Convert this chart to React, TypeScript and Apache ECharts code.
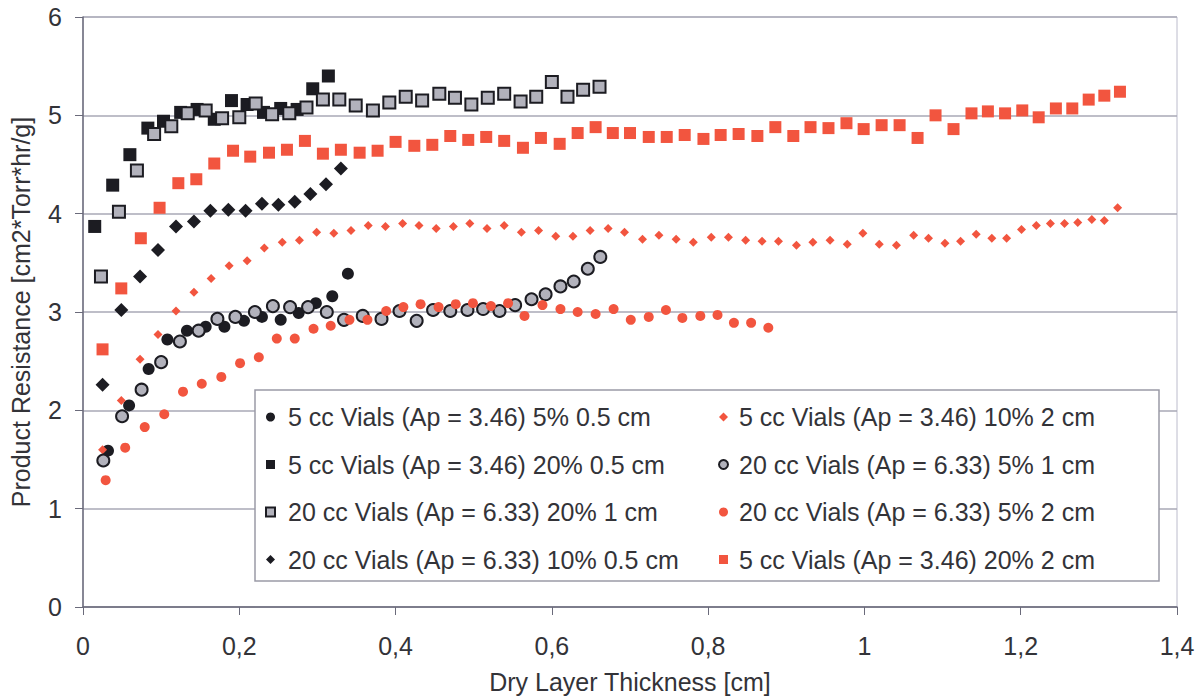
import React, { useEffect, useRef } from "react";
import * as echarts from "echarts";

// ---------- data ----------
const xTicks = [0, 0.2, 0.4, 0.6, 0.8, 1, 1.2, 1.4];
const yTicks = [0, 1, 2, 3, 4, 5, 6];

const seriesNames = [
  "5 cc Vials (Ap = 3.46) 5% 0.5 cm",
  "5 cc Vials (Ap = 3.46) 20% 0.5 cm",
  "20 cc Vials (Ap = 6.33) 20% 1 cm",
  "20 cc Vials (Ap = 6.33) 10% 0.5 cm",
  "5 cc Vials (Ap = 3.46) 10% 2 cm",
  "20 cc Vials (Ap = 6.33) 5% 1 cm",
  "20 cc Vials (Ap = 6.33) 5% 2 cm",
  "5 cc Vials (Ap = 3.46) 20% 2 cm",
];

const s1X = [0.032, 0.059, 0.084, 0.108, 0.133, 0.157, 0.181, 0.206, 0.229, 0.253, 0.276, 0.298, 0.319, 0.339];
const s1Y = [1.59, 2.05, 2.42, 2.72, 2.81, 2.85, 2.85, 2.91, 2.95, 2.92, 2.99, 3.09, 3.16, 3.39];

const s2X = [0.015, 0.038, 0.06, 0.083, 0.103, 0.125, 0.146, 0.168, 0.19, 0.21, 0.231, 0.253, 0.274, 0.294, 0.314];
const s2Y = [3.87, 4.29, 4.6, 4.87, 4.94, 5.03, 5.06, 4.96, 5.15, 5.11, 5.03, 5.07, 5.06, 5.27, 5.4];

const s3X = [0.023, 0.046, 0.069, 0.091, 0.113, 0.134, 0.157, 0.178, 0.2, 0.221, 0.242, 0.264, 0.286, 0.307, 0.328, 0.349, 0.371, 0.392, 0.413, 0.434, 0.456, 0.476, 0.497, 0.518, 0.539, 0.56, 0.58, 0.6, 0.62, 0.64, 0.661];
const s3Y = [3.36, 4.02, 4.44, 4.81, 4.89, 5.02, 5.05, 4.97, 4.98, 5.12, 5.01, 5.02, 5.08, 5.16, 5.16, 5.1, 5.05, 5.13, 5.19, 5.15, 5.22, 5.18, 5.11, 5.18, 5.22, 5.14, 5.19, 5.34, 5.19, 5.26, 5.29];

const s4X = [0.025, 0.049, 0.073, 0.096, 0.119, 0.142, 0.163, 0.186, 0.208, 0.229, 0.25, 0.271, 0.291, 0.311, 0.33];
const s4Y = [2.26, 3.02, 3.36, 3.63, 3.87, 3.92, 4.03, 4.04, 4.03, 4.1, 4.09, 4.12, 4.2, 4.3, 4.46];

const s5X = [0.025, 0.049, 0.073, 0.096, 0.119, 0.142, 0.164, 0.187, 0.21, 0.232, 0.255, 0.277, 0.299, 0.321, 0.343, 0.365, 0.387, 0.409, 0.43, 0.452, 0.474, 0.495, 0.517, 0.539, 0.561, 0.583, 0.605, 0.627, 0.649, 0.672, 0.693, 0.716, 0.737, 0.759, 0.781, 0.804, 0.826, 0.848, 0.869, 0.89, 0.913, 0.934, 0.956, 0.978, 0.998, 1.019, 1.041, 1.063, 1.082, 1.103, 1.123, 1.143, 1.163, 1.182, 1.201, 1.22, 1.238, 1.256, 1.273, 1.291, 1.307, 1.324];
const s5Y = [1.6, 2.1, 2.52, 2.77, 3.01, 3.2, 3.34, 3.47, 3.52, 3.65, 3.71, 3.73, 3.81, 3.8, 3.83, 3.88, 3.87, 3.9, 3.88, 3.85, 3.87, 3.9, 3.85, 3.88, 3.81, 3.83, 3.77, 3.77, 3.83, 3.85, 3.81, 3.74, 3.78, 3.74, 3.71, 3.76, 3.76, 3.73, 3.72, 3.72, 3.68, 3.71, 3.73, 3.69, 3.8, 3.69, 3.68, 3.78, 3.75, 3.7, 3.72, 3.79, 3.75, 3.75, 3.84, 3.88, 3.9, 3.9, 3.91, 3.94, 3.93, 4.06];

const s6X = [0.026, 0.05, 0.075, 0.1, 0.124, 0.148, 0.172, 0.195, 0.22, 0.243, 0.265, 0.288, 0.312, 0.334, 0.358, 0.382, 0.405, 0.427, 0.448, 0.47, 0.492, 0.512, 0.533, 0.553, 0.574, 0.592, 0.611, 0.628, 0.646, 0.662];
const s6Y = [1.49, 1.94, 2.21, 2.49, 2.7, 2.81, 2.93, 2.95, 3.0, 3.06, 3.05, 3.05, 3.0, 2.92, 2.96, 2.93, 3.01, 2.91, 3.02, 3.01, 3.02, 3.03, 3.01, 3.07, 3.13, 3.18, 3.26, 3.31, 3.44, 3.56];

const s7X = [0.029, 0.054, 0.079, 0.104, 0.128, 0.152, 0.177, 0.201, 0.225, 0.248, 0.271, 0.295, 0.317, 0.341, 0.364, 0.388, 0.41, 0.432, 0.455, 0.477, 0.499, 0.522, 0.544, 0.565, 0.588, 0.611, 0.633, 0.656, 0.679, 0.701, 0.724, 0.746, 0.767, 0.79, 0.812, 0.833, 0.855, 0.877];
const s7Y = [1.29, 1.62, 1.83, 1.96, 2.19, 2.27, 2.34, 2.48, 2.54, 2.73, 2.73, 2.83, 2.86, 2.92, 2.92, 3.01, 3.05, 3.08, 3.05, 3.08, 3.09, 3.06, 3.09, 2.96, 3.07, 3.03, 3.0, 2.98, 3.03, 2.92, 2.95, 3.02, 2.94, 2.96, 2.97, 2.89, 2.89, 2.84];

const s8X = [0.025, 0.049, 0.074, 0.098, 0.122, 0.145, 0.168, 0.192, 0.214, 0.238, 0.261, 0.284, 0.307, 0.33, 0.354, 0.377, 0.4, 0.424, 0.447, 0.47, 0.493, 0.516, 0.539, 0.563, 0.586, 0.61, 0.633, 0.656, 0.678, 0.7, 0.724, 0.747, 0.77, 0.794, 0.816, 0.839, 0.863, 0.886, 0.909, 0.931, 0.954, 0.977, 0.999, 1.022, 1.045, 1.068, 1.091, 1.114, 1.137, 1.158, 1.18, 1.202, 1.223, 1.245, 1.266, 1.287, 1.307, 1.327];
const s8Y = [2.62, 3.24, 3.75, 4.06, 4.31, 4.35, 4.51, 4.64, 4.58, 4.62, 4.65, 4.74, 4.61, 4.65, 4.62, 4.64, 4.73, 4.69, 4.7, 4.79, 4.75, 4.78, 4.74, 4.67, 4.77, 4.71, 4.82, 4.88, 4.82, 4.82, 4.78, 4.78, 4.8, 4.76, 4.8, 4.81, 4.79, 4.88, 4.79, 4.88, 4.87, 4.92, 4.86, 4.9, 4.9, 4.77, 5.0, 4.86, 5.02, 5.04, 5.02, 5.05, 4.98, 5.07, 5.07, 5.16, 5.2, 5.24];

// ---------- styles ----------
const FONT = "'Liberation Sans', Arial, sans-serif";
const TEXT = "#333338";
const DARK = "#1c1c22";
const GREY = "#b2b2bc";
const RED = "#f2553f";

const zip = (xs: number[], ys: number[]) => xs.map((x, i) => [x, ys[i]]);

const fmtX = (v: number) =>
  Number.isInteger(v) ? String(v) : v.toFixed(1).replace(".", ",");

export default function App() {
  const ref = useRef<HTMLDivElement>(null);

  useEffect(() => {
    document.body.style.margin = "0";
    if (!ref.current) return;
    const chart = echarts.init(ref.current, null, { renderer: "svg" });

    const mk = (
      name: string,
      data: number[][],
      symbol: string,
      size: number,
      fill: string,
      border?: string,
      bw = 0
    ) => ({
      name,
      type: "scatter",
      data,
      symbol,
      symbolSize: size,
      z: 3,
      itemStyle: {
        color: fill,
        borderColor: border || fill,
        borderWidth: bw,
        opacity: 1,
      },
    });

    const series = [
      mk(seriesNames[0], zip(s1X, s1Y), "circle", 12, DARK),
      mk(seriesNames[1], zip(s2X, s2Y), "rect", 13, DARK),
      mk(seriesNames[2], zip(s3X, s3Y), "rect", 12, GREY, DARK, 2),
      mk(seriesNames[3], zip(s4X, s4Y), "diamond", 14, DARK),
      mk(seriesNames[4], zip(s5X, s5Y), "diamond", 9, RED),
      mk(seriesNames[5], zip(s6X, s6Y), "circle", 12, GREY, DARK, 2),
      mk(seriesNames[6], zip(s7X, s7Y), "circle", 10, RED),
      mk(seriesNames[7], zip(s8X, s8Y), "rect", 12, RED),
    ];

    const legendText = {
      fontSize: 25,
      fontFamily: FONT,
      color: TEXT,
      lineHeight: 30,
    };

    chart.setOption({
      animation: false,
      backgroundColor: "#ffffff",
      textStyle: { fontFamily: FONT },
      grid: {
        left: 79,
        right: 27,
        top: 17,
        bottom: 93,
        show: true,
        borderColor: "#bcbccc",
        borderWidth: 1,
      },
      xAxis: {
        type: "value",
        min: xTicks[0],
        max: xTicks[xTicks.length - 1],
        interval: 0.2,
        name: "Dry Layer Thickness [cm]",
        nameLocation: "middle",
        nameGap: 62,
        nameTextStyle: { fontSize: 25, color: TEXT, fontFamily: FONT },
        axisLine: { show: true, lineStyle: { color: "#6a6a7a", width: 1.5 } },
        axisTick: { show: true, length: 8, inside: false, lineStyle: { color: "#6a6a7a" } },
        axisLabel: {
          fontSize: 25,
          color: TEXT,
          fontFamily: FONT,
          margin: 26,
          formatter: (v: number) => fmtX(v),
        },
        splitLine: { show: false },
      },
      yAxis: {
        type: "value",
        min: yTicks[0],
        max: yTicks[yTicks.length - 1],
        interval: 1,
        name: "Product Resistance [cm2*Torr*hr/g]",
        nameLocation: "middle",
        nameGap: 50,
        nameTextStyle: { fontSize: 25, color: TEXT, fontFamily: FONT },
        axisLine: { show: true, lineStyle: { color: "#6a6a7a", width: 1.5 } },
        axisTick: { show: true, length: 8, inside: false, lineStyle: { color: "#6a6a7a" } },
        axisLabel: { fontSize: 25, color: TEXT, fontFamily: FONT, margin: 21 },
        splitLine: { show: true, lineStyle: { color: "#a8a8b6", width: 1.5 } },
      },
      legend: [
        {
          orient: "vertical",
          left: 260,
          top: 397,
          itemWidth: 9,
          itemHeight: 9,
          itemGap: 17.5,
          z: 6,
          data: [seriesNames[0], seriesNames[1], seriesNames[2], seriesNames[3]],
          textStyle: { ...legendText, padding: [0, 0, 0, 8] },
          selectedMode: false,
        },
        {
          orient: "vertical",
          left: 713,
          top: 397,
          itemWidth: 9,
          itemHeight: 9,
          itemGap: 17.5,
          z: 6,
          data: [seriesNames[4], seriesNames[5], seriesNames[6], seriesNames[7]],
          textStyle: { ...legendText, padding: [0, 0, 0, 6] },
          selectedMode: false,
        },
      ],
      graphic: [
        {
          type: "rect",
          z: 5,
          shape: { x: 255, y: 390, width: 904, height: 191 },
          style: { fill: "#ffffff", stroke: "#9a9aa6", lineWidth: 1.5 },
        },
      ],
      series,
    });

    return () => chart.dispose();
  }, []);

  return <div ref={ref} style={{ width: 1204, height: 700 }} />;
}
